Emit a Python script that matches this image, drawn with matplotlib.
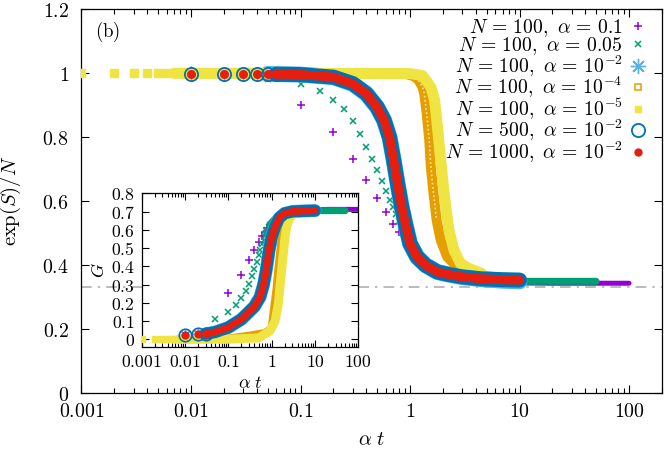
import matplotlib
matplotlib.use("Agg")
import matplotlib.pyplot as plt
from matplotlib.lines import Line2D
from matplotlib.ticker import LogLocator, NullFormatter

plt.rcParams['mathtext.fontset'] = 'cm'
plt.rcParams['font.family'] = ['DejaVu Serif']

# ---------------- colours (gnuplot default palette) ----------------
C_PURPLE = '#9400d3'
C_GREEN = '#009e73'
C_LBLUE = '#56b4e9'
C_ORANGE = '#e69f00'
C_YELLOW = '#f0e442'
C_BLUE = '#0072b2'
C_RED = '#e51e10'

legend_labels = [r'$N\,=\,100,\ \alpha\,=\,0.1$',
                 r'$N\,=\,100,\ \alpha\,=\,0.05$',
                 r'$N\,=\,100,\ \alpha\,=\,10^{-2}$',
                 r'$N\,=\,100,\ \alpha\,=\,10^{-4}$',
                 r'$N\,=\,100,\ \alpha\,=\,10^{-5}$',
                 r'$N\,=\,500,\ \alpha\,=\,10^{-2}$',
                 r'$N\,=\,1000,\ \alpha\,=\,10^{-2}$']

xticks_main = [0.001, 0.01, 0.1, 1, 10, 100]
xtick_labels_main = ['$0.001$', '$0.01$', '$0.1$', '$1$', '$10$', '$100$']
yticks_main = [0, 0.2, 0.4, 0.6, 0.8, 1.0, 1.2]
ytick_labels_main = ['$0$', '$0.2$', '$0.4$', '$0.6$', '$0.8$', '$1$', '$1.2$']
xticks_ins = [0.001, 0.01, 0.1, 1, 10, 100]
xtick_labels_ins = ['$0.001$', '$0.01$', '$0.1$', '$1$', '$10$', '$100$']
yticks_ins = [0, 0.1, 0.2, 0.3, 0.4, 0.5, 0.6, 0.7, 0.8]
ytick_labels_ins = ['$0$', '$0.1$', '$0.2$', '$0.3$', '$0.4$', '$0.5$', '$0.6$', '$0.7$', '$0.8$']

reference_level = 1.0 / 3.0

# ---------------- main panel: exp(S)/N ----------------
# N=100, alpha=0.1 : isolated points then dense tail
a1_x = [0.1, 0.2, 0.3, 0.4, 0.5, 0.6, 0.7, 0.8, 0.9, 1.0, 1.1, 1.2, 1.3, 1.4, 1.5]
a1_y = [0.900, 0.815, 0.732, 0.668, 0.611, 0.567, 0.530, 0.504, 0.481, 0.463, 0.445, 0.428, 0.415, 0.405, 0.397]
a1_xd = [1.5, 2, 3, 5, 10, 20, 50, 100]
a1_yd = [0.397, 0.372, 0.356, 0.348, 0.345, 0.344, 0.344, 0.344]

# N=100, alpha=0.05
a2_x = [0.05, 0.1, 0.15, 0.2, 0.25, 0.3, 0.35, 0.4, 0.45, 0.5, 0.55, 0.6, 0.65, 0.7, 0.75, 0.8, 0.85, 0.9]
a2_y = [0.981, 0.965, 0.946, 0.918, 0.887, 0.851, 0.809, 0.769, 0.732, 0.697, 0.663, 0.632, 0.605, 0.582,
        0.559, 0.539, 0.520, 0.500]
a2_xd = [0.9, 1.0, 1.2, 1.5, 2, 3, 5, 10, 20, 50]
a2_yd = [0.500, 0.475, 0.440, 0.405, 0.378, 0.360, 0.352, 0.350, 0.350, 0.350]

# N=100, alpha=1e-2
a3_x = [0.01, 0.02, 0.03, 0.04]
a3_y = [1.0, 0.999, 0.999, 0.998]
a3_xd = [0.05, 0.1, 0.2, 0.3, 0.4, 0.5, 0.58, 0.65, 0.71, 0.77, 0.84, 0.92, 1.0, 1.16, 1.39, 1.78,
         2.2, 3.0, 4.4, 7, 10]
a3_yd = [0.998, 0.996, 0.988, 0.967, 0.936, 0.894, 0.853, 0.800, 0.728, 0.655, 0.582, 0.520, 0.468,
         0.426, 0.400, 0.379, 0.372, 0.363, 0.357, 0.352, 0.350]

# N=100, alpha=1e-4
a4_xd = [0.008, 0.1, 0.9, 1.1, 1.2, 1.3, 1.35, 1.42, 1.50, 1.55, 1.64, 1.75, 1.91, 2.19, 2.61, 3.2, 4.0]
a4_yd = [1.0, 1.0, 0.999, 0.990, 0.978, 0.957, 0.936, 0.874, 0.790, 0.707, 0.624, 0.541, 0.478, 0.426,
         0.400, 0.385, 0.375]

# N=100, alpha=1e-5
a5_x = [0.001, 0.002, 0.003, 0.004, 0.005, 0.006]
a5_y = [1.0, 1.0, 1.0, 1.0, 1.0, 1.0]
a5_xd = [0.007, 0.1, 1.0, 1.3, 1.55, 1.68, 1.78, 1.88, 1.99, 2.12, 2.27, 2.52, 2.89, 3.45, 4.5]
a5_yd = [1.0, 1.0, 0.999, 0.993, 0.957, 0.915, 0.832, 0.749, 0.666, 0.582, 0.510, 0.447, 0.406, 0.390, 0.375]

# N=500, alpha=1e-2
a6_x = [0.01, 0.02, 0.03, 0.04, 0.05, 0.06]
a6_y = [0.999, 0.999, 0.998, 0.998, 0.998, 0.997]
a6_xd = [0.06, 0.1, 0.2, 0.3, 0.4, 0.5, 0.58, 0.65, 0.71, 0.77, 0.84, 0.92, 1.0, 1.16, 1.39, 1.78,
         2.2, 3.0, 4.4, 7, 10]
a6_yd = [0.997, 0.996, 0.988, 0.968, 0.936, 0.895, 0.853, 0.800, 0.728, 0.655, 0.582, 0.520, 0.468,
         0.426, 0.400, 0.379, 0.372, 0.364, 0.358, 0.355, 0.354]

# N=1000, alpha=1e-2
a7_x = [0.01, 0.02, 0.03, 0.04, 0.05, 0.06]
a7_y = [0.999, 0.999, 0.998, 0.998, 0.998, 0.997]
a7_xd = [0.06, 0.1, 0.2, 0.3, 0.4, 0.5, 0.58, 0.65, 0.71, 0.77, 0.84, 0.92, 1.0, 1.16, 1.39, 1.78,
         2.2, 3.0, 4.4, 7, 10]
a7_yd = [0.997, 0.996, 0.988, 0.967, 0.936, 0.894, 0.853, 0.800, 0.728, 0.655, 0.582, 0.520, 0.468,
         0.426, 0.400, 0.379, 0.372, 0.364, 0.358, 0.355, 0.354]

# ---------------- inset: G ----------------
g1_y = [0.255, 0.350, 0.432, 0.488, 0.535, 0.568, 0.590, 0.610, 0.625, 0.640, 0.650, 0.660, 0.668, 0.675, 0.680]
g1_xd = [1.5, 2, 3, 5, 10, 20, 50, 100]
g1_yd = [0.680, 0.690, 0.700, 0.707, 0.710, 0.712, 0.712, 0.712]

g2_y = [0.114, 0.150, 0.187, 0.226, 0.266, 0.306, 0.346, 0.387, 0.425, 0.460, 0.490, 0.520, 0.545, 0.565,
        0.585, 0.600, 0.615, 0.625]
g2_xd = [0.9, 1.0, 1.2, 1.5, 2, 3, 5, 10, 20, 50]
g2_yd = [0.625, 0.640, 0.660, 0.680, 0.690, 0.700, 0.703, 0.705, 0.705, 0.705]

g3_x = [0.01, 0.02, 0.03]
g3_y = [0.026, 0.027, 0.030]
g3_xd = [0.03, 0.05, 0.1, 0.2, 0.27, 0.4, 0.54, 0.65, 0.75, 0.87, 1.0, 1.2, 1.5, 2.0, 3.0, 5.0, 10]
g3_yd = [0.030, 0.040, 0.065, 0.110, 0.140, 0.180, 0.232, 0.300, 0.380, 0.486, 0.560, 0.617, 0.665,
         0.690, 0.700, 0.703, 0.705]

g4_xd = [0.007, 0.1, 0.3, 0.7, 1.0, 1.15, 1.3, 1.42, 1.56, 1.72, 1.95, 2.4, 3.5]
g4_yd = [0.0, 0.005, 0.020, 0.035, 0.060, 0.180, 0.280, 0.380, 0.470, 0.560, 0.630, 0.675, 0.690]

g5_x = [0.001, 0.002, 0.003, 0.004, 0.005, 0.006]
g5_y = [0.0, 0.0, 0.0, 0.0, 0.0, 0.0]
g5_xd = [0.007, 0.1, 0.5, 0.9, 1.2, 1.43, 1.56, 1.7, 1.86, 2.03, 2.3, 2.9, 4.0]
g5_yd = [0.0, 0.001, 0.008, 0.045, 0.100, 0.196, 0.290, 0.380, 0.470, 0.560, 0.635, 0.680, 0.695]

g6_yd = g3_yd
g7_yd = g3_yd

PX = 0.72  # points per pixel at dpi 100


def band(ax, x, y, color, width_px, z):
    ax.plot(x, y, '-', color=color, lw=width_px * PX, solid_capstyle='round',
            solid_joinstyle='round', zorder=z)


fig = plt.figure(figsize=(6.64, 4.51), dpi=100)
ax = fig.add_axes([0.1227, 0.1279, 0.8743, 0.8515])

ax.axhline(reference_level, color='#a8a8a8', lw=1.1, dashes=(7, 4, 1.5, 4), zorder=1)

# purple +
ax.plot(a1_x, a1_y, ls='none', marker='+', ms=6, mew=1.1, color=C_PURPLE, zorder=2)
band(ax, a1_xd, a1_yd, C_PURPLE, 5, 2)
# green x
ax.plot(a2_x, a2_y, ls='none', marker='x', ms=5, mew=1.1, color=C_GREEN, zorder=3)
band(ax, a2_xd, a2_yd, C_GREEN, 7, 3)
# light blue asterisks
ax.plot(a3_x, a3_y, ls='none', marker=(8, 2, 0), ms=10, mew=1.0, color=C_LBLUE, zorder=4)
band(ax, a3_xd, a3_yd, C_LBLUE, 16, 4)
# orange open squares
band(ax, a4_xd, a4_yd, C_ORANGE, 10, 5)
ax.plot(a4_xd[4:12], a4_yd[4:12], color='#fbe3b0', lw=1.2, dashes=(1, 1.5), zorder=5)
# yellow filled squares
ax.plot(a5_x, a5_y, ls='none', marker='s', ms=5.5, color=C_YELLOW, mec=C_YELLOW, zorder=6)
band(ax, a5_xd, a5_yd, C_YELLOW, 11, 6)
# blue open circles
ax.plot(a6_x, a6_y, ls='none', marker='o', ms=9.5, mfc='none', mew=1.3, color=C_BLUE, zorder=7)
band(ax, a6_xd, a6_yd, C_BLUE, 15, 7)
# red filled circles
ax.plot(a7_x, a7_y, ls='none', marker='o', ms=5.5, color=C_RED, zorder=8)
band(ax, a7_xd, a7_yd, C_RED, 9, 8)

ax.set_xscale('log')
ax.set_xlim(0.001, 200)
ax.set_ylim(0, 1.2)
ax.set_xticks(xticks_main, xtick_labels_main)
ax.xaxis.set_minor_locator(LogLocator(base=10, subs=range(2, 10), numticks=20))
ax.xaxis.set_minor_formatter(NullFormatter())
ax.set_yticks(yticks_main, ytick_labels_main)
ax.tick_params(which='both', direction='in', top=True, right=True, labelsize=14.3)
ax.tick_params(which='major', length=6, width=0.8)
ax.tick_params(which='minor', length=3.5, width=0.8)
ax.tick_params(axis='y', pad=9)
ax.tick_params(axis='x', pad=6)
for s in ax.spines.values():
    s.set_linewidth(0.9)
ax.set_xlabel(r'$\alpha\ t$', fontsize=14.5, labelpad=7)
ax.set_ylabel(r'$\exp(S)/N$', fontsize=14.8, labelpad=14)
ax.text(0.045, 0.941, r'$\mathrm{(b)}$', transform=ax.transAxes, fontsize=13.5,
        ha='center', va='center')

handles = [
    Line2D([], [], ls='none', marker='+', ms=6, mew=1.1, color=C_PURPLE),
    Line2D([], [], ls='none', marker='x', ms=5, mew=1.1, color=C_GREEN),
    Line2D([], [], ls='none', marker=(8, 2, 0), ms=11, mew=1.0, color=C_LBLUE),
    Line2D([], [], ls='none', marker='s', ms=4.5, mfc='none', mew=1.1, color=C_ORANGE),
    Line2D([], [], ls='none', marker='s', ms=4.5, color=C_YELLOW),
    Line2D([], [], ls='none', marker='o', ms=9.5, mfc='none', mew=1.3, color=C_BLUE),
    Line2D([], [], ls='none', marker='o', ms=5, color=C_RED),
]
leg = ax.legend(handles, legend_labels, loc='upper right', bbox_to_anchor=(0.975, 0.98),
                frameon=False, markerfirst=False,
                fontsize=14.2, handlelength=1.0, handletextpad=0.25, labelspacing=-0.19,
                borderaxespad=0.0, borderpad=0.0)
leg.set_zorder(20)

# ---------------- inset ----------------
ins = fig.add_axes([0.2134, 0.2313, 0.3262, 0.3401])
ins.set_facecolor('white')
ins.plot(a1_x, g1_y, ls='none', marker='+', ms=6, mew=1.1, color=C_PURPLE, zorder=2)
band(ins, g1_xd, g1_yd, C_PURPLE, 5, 2)
ins.plot(a2_x, g2_y, ls='none', marker='x', ms=5, mew=1.1, color=C_GREEN, zorder=3)
band(ins, g2_xd, g2_yd, C_GREEN, 7, 3)
ins.plot(g3_x, g3_y, ls='none', marker=(8, 2, 0), ms=9, mew=1.0, color=C_LBLUE, zorder=4)
band(ins, g3_xd, g3_yd, C_LBLUE, 13, 4)
band(ins, g4_xd, g4_yd, C_ORANGE, 8, 5)
ins.plot(g5_x, g5_y, ls='none', marker='s', ms=5, color=C_YELLOW, mec=C_YELLOW, zorder=6)
band(ins, g5_xd, g5_yd, C_YELLOW, 9, 6)
ins.plot(g3_x, g3_y, ls='none', marker='o', ms=9, mfc='none', mew=1.2, color=C_BLUE, zorder=7)
band(ins, g3_xd, g6_yd, C_BLUE, 12, 7)
ins.plot(g3_x, g3_y, ls='none', marker='o', ms=5, color=C_RED, zorder=8)
band(ins, g3_xd, g7_yd, C_RED, 7, 8)

ins.set_xscale('log')
ins.set_xlim(0.001, 100)
ins.set_ylim(-0.04, 0.8)
ins.set_xticks(xticks_ins, xtick_labels_ins)
ins.xaxis.set_minor_locator(LogLocator(base=10, subs=range(2, 10), numticks=20))
ins.xaxis.set_minor_formatter(NullFormatter())
ins.set_yticks(yticks_ins, ytick_labels_ins)
ins.tick_params(which='both', direction='in', top=True, right=True, labelsize=12.7)
ins.tick_params(which='major', length=5, width=0.8)
ins.tick_params(which='minor', length=3, width=0.8)
ins.tick_params(axis='y', pad=5)
ins.tick_params(axis='x', pad=4.5)
for s in ins.spines.values():
    s.set_linewidth(0.9)
ins.set_xlabel(r'$\alpha\ t$', fontsize=13, labelpad=2)
ins.set_ylabel(r'$G$', fontsize=13, labelpad=2)

fig.savefig('out.png', dpi=100)
